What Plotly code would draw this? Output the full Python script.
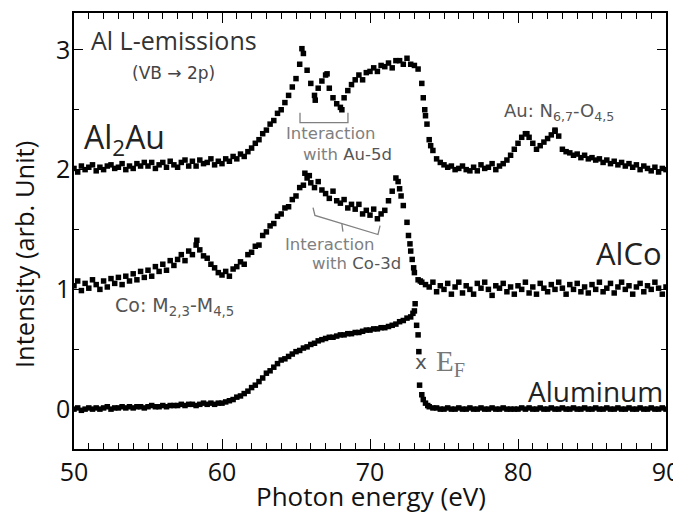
import plotly.graph_objects as go

# photon-energy sampling grid (eV): 50.00, 50.25, ... 90.00
energy = [50 + 0.25 * i for i in range(161)]

aluminum = [
    0.00, 0.01, -0.01, 0.00,   # 50
    0.01, 0.00, 0.01, 0.00,    # 51
    0.01, 0.02, 0.00, 0.01,    # 52
    0.01, 0.02, 0.01, 0.02,    # 53
    0.01, 0.02, 0.02, 0.01,    # 54
    0.02, 0.03, 0.02, 0.02,    # 55
    0.03, 0.02, 0.03, 0.03,    # 56
    0.03, 0.04, 0.03, 0.04,    # 57
    0.04, 0.03, 0.04, 0.05,    # 58
    0.04, 0.05, 0.04, 0.05,    # 59
    0.05, 0.06, 0.07, 0.08,    # 60
    0.10, 0.11, 0.13, 0.15,    # 61
    0.18, 0.20, 0.23, 0.26,    # 62
    0.30, 0.32, 0.35, 0.38,    # 63
    0.41, 0.42, 0.44, 0.46,    # 64
    0.48, 0.49, 0.51, 0.52,    # 65
    0.54, 0.55, 0.57, 0.58,    # 66
    0.59, 0.60, 0.60, 0.61,    # 67
    0.62, 0.62, 0.63, 0.63,    # 68
    0.64, 0.64, 0.65, 0.66,    # 69
    0.66, 0.67, 0.67, 0.68,    # 70
    0.68, 0.69, 0.70, 0.71,    # 71
    0.73, 0.74, 0.76, 0.77,    # 72
    0.82, 0.62, 0.12, 0.05,    # 73
    0.02, 0.01, 0.01, 0.00,    # 74
    0.00, 0.01, 0.00, 0.00,    # 75
    0.01, 0.00, 0.00, 0.01,    # 76
    0.00, 0.00, 0.01, 0.00,    # 77
    0.00, 0.01, 0.00, 0.00,    # 78
    0.01, 0.00, 0.00, 0.00,    # 79
    0.00, 0.01, 0.00, 0.01,    # 80
    0.00, 0.00, 0.01, 0.00,    # 81
    0.00, 0.01, 0.00, 0.00,    # 82
    0.01, 0.00, 0.00, 0.01,    # 83
    0.00, 0.00, 0.01, 0.00,    # 84
    0.00, 0.01, 0.00, 0.00,    # 85
    0.01, 0.00, 0.00, 0.01,    # 86
    0.00, 0.00, 0.01, 0.00,    # 87
    0.00, 0.01, 0.00, 0.00,    # 88
    0.01, 0.00, 0.00, 0.01,    # 89
    0.00,                      # 90
]

alco = [
    1.03, 1.07, 0.99, 1.05,    # 50
    1.01, 1.08, 1.04, 1.00,    # 51
    1.07, 1.02, 1.09, 1.05,    # 52
    1.10, 1.04, 1.11, 1.07,    # 53
    1.13, 1.08, 1.15, 1.10,    # 54
    1.16, 1.11, 1.19, 1.15,    # 55
    1.21, 1.16, 1.24, 1.20,    # 56
    1.25, 1.29, 1.24, 1.32,    # 57
    1.29, 1.37, 1.33, 1.28,    # 58
    1.26, 1.21, 1.18, 1.14,    # 59
    1.12, 1.15, 1.11, 1.17,    # 60
    1.19, 1.23, 1.21, 1.29,    # 61
    1.31, 1.36, 1.37, 1.45,    # 62
    1.48, 1.53, 1.55, 1.61,    # 63
    1.63, 1.68, 1.69, 1.75,    # 64
    1.78, 1.85, 1.87, 1.93,    # 65
    1.89, 1.85, 1.90, 1.83,    # 66
    1.80, 1.76, 1.82, 1.74,    # 67
    1.72, 1.75, 1.68, 1.71,    # 68
    1.67, 1.71, 1.63, 1.66,    # 69
    1.62, 1.67, 1.59, 1.63,    # 70
    1.66, 1.74, 1.82, 1.93,    # 71
    1.84, 1.70, 1.56, 1.32,    # 72
    1.14, 1.08, 1.06, 1.04,    # 73
    1.02, 1.06, 0.98, 1.03,    # 74
    1.00, 1.05, 0.96, 1.02,    # 75
    1.06, 0.97, 1.03, 1.00,    # 76
    0.96, 1.05, 1.01, 1.06,    # 77
    1.00, 0.95, 1.03, 1.01,    # 78
    1.05, 0.98, 1.02, 0.96,    # 79
    1.03, 1.00, 1.06, 0.97,    # 80
    1.02, 0.96, 1.05, 1.01,    # 81
    0.98, 1.04, 1.00, 1.06,    # 82
    1.01, 0.96, 1.04, 1.00,    # 83
    1.05, 0.98, 1.02, 0.97,    # 84
    1.04, 1.00, 1.06, 0.98,    # 85
    1.01, 1.05, 0.97, 1.02,    # 86
    1.06, 1.00, 1.03, 0.96,    # 87
    1.02, 1.05, 0.98, 1.03,    # 88
    1.00, 1.06, 1.01, 0.96,    # 89
    1.02,                      # 90
]

al2au = [
    2.01, 1.98, 2.03, 2.00,    # 50
    2.02, 2.04, 1.99, 2.02,    # 51
    2.00, 2.03, 2.04, 2.01,    # 52
    2.02, 2.05, 2.00, 2.03,    # 53
    2.01, 2.05, 2.03, 2.06,    # 54
    2.03, 2.06, 2.01, 2.04,    # 55
    2.06, 2.02, 2.07, 2.04,    # 56
    2.02, 2.06, 2.08, 2.03,    # 57
    2.07, 2.03, 2.08, 2.05,    # 58
    2.06, 2.09, 2.04, 2.07,    # 59
    2.05, 2.09, 2.07, 2.11,    # 60
    2.09, 2.13, 2.11, 2.15,    # 61
    2.18, 2.22, 2.25, 2.30,    # 62
    2.33, 2.38, 2.41, 2.47,    # 63
    2.50, 2.56, 2.62, 2.69,    # 64
    2.76, 2.88, 2.97, 2.83,    # 65
    2.72, 2.62, 2.68, 2.74,    # 66
    2.79, 2.68, 2.60, 2.55,    # 67
    2.52, 2.60, 2.66, 2.71,    # 68
    2.75, 2.79, 2.75, 2.81,    # 69
    2.82, 2.85, 2.82, 2.87,    # 70
    2.86, 2.89, 2.85, 2.91,    # 71
    2.91, 2.88, 2.93, 2.88,    # 72
    2.87, 2.84, 2.72, 2.45,    # 73
    2.25, 2.16, 2.09, 2.06,    # 74
    2.04, 2.02, 2.03, 2.00,    # 75
    2.01, 2.03, 2.00, 1.99,    # 76
    2.02, 1.99, 2.04, 2.01,    # 77
    2.02, 2.05, 2.00, 2.03,    # 78
    2.05, 2.08, 2.12, 2.17,    # 79
    2.22, 2.27, 2.30, 2.27,    # 80
    2.22, 2.17, 2.20, 2.23,    # 81
    2.26, 2.29, 2.32, 2.28,    # 82
    2.17, 2.15, 2.14, 2.12,    # 83
    2.13, 2.10, 2.12, 2.09,    # 84
    2.10, 2.08, 2.09, 2.06,    # 85
    2.08, 2.05, 2.07, 2.04,    # 86
    2.06, 2.03, 2.05, 2.02,    # 87
    2.04, 2.00, 2.03, 2.01,    # 88
    1.99, 2.02, 1.98, 2.01,    # 89
    2.00,                      # 90
]

al_extra_e = [72.9, 73.05, 73.15, 73.3, 73.35, 73.6, 73.9]
al_extra_i = [0.80, 0.88, 0.70, 0.48, 0.20, 0.08, 0.03]
alco_extra_e = [58.3, 65.6, 65.9, 71.9, 72.1, 72.6, 72.7, 72.85, 72.95, 73.4]
alco_extra_i = [1.41, 1.97, 1.95, 1.90, 1.78, 1.45, 1.38, 1.25, 1.18, 1.07]
al2au_extra_e = [65.4, 66.3, 67.1, 68.1, 73.6, 73.7, 73.85, 74.1, 80.6, 82.5]
al2au_extra_i = [3.01, 2.58, 2.80, 2.50, 2.60, 2.50, 2.38, 2.20, 2.30, 2.33]

x_ticks = [50, 60, 70, 80, 90]
y_ticks = [0, 1, 2, 3]

assert len(aluminum) == len(alco) == len(al2au) == len(energy)

MAIN = "Open Sans"
ANN = "DejaVu Sans"

fig = go.Figure()
for xs, ys, name in [
    (energy + al_extra_e, aluminum + al_extra_i, "Aluminum"),
    (energy + alco_extra_e, alco + alco_extra_i, "AlCo"),
    (energy + al2au_extra_e, al2au + al2au_extra_i, "Al2Au"),
]:
    fig.add_trace(go.Scatter(
        x=xs, y=ys, mode="markers", name=name, showlegend=False,
        marker=dict(symbol="square", size=5.5, color="black", line=dict(width=0)),
    ))

# brackets (gray)
gray = "#808080"
fig.add_shape(type="path", path="M 65.27 2.475 L 65.27 2.392 L 68.51 2.392 L 68.51 2.475",
              line=dict(color=gray, width=1.3), xref="x", yref="y")
fig.add_shape(type="path",
              path="M 66.15 1.683 L 66.28 1.617 L 70.54 1.458 L 70.68 1.533",
              line=dict(color=gray, width=1.3), xref="x", yref="y")
fig.add_shape(type="line", x0=68.10, y0=1.547, x1=68.17, y1=1.483,
              line=dict(color=gray, width=1.3), xref="x", yref="y")

# the page body has an 8px margin: size the figure so the plot area lands
# at page pixels x 74..666, y 13..449
BODY = 8
W, H = 681 - BODY, 514 - BODY
L, R, T, B = 74 - BODY, 15, 13 - BODY, 65
X0, X1, Y0, Y1 = 74, 666, 13, 449   # plot area in page pixels


def px(xp):
    return (xp - X0) / (X1 - X0)


def py(yp):
    return (Y1 - yp) / (Y1 - Y0)


def ann(text, x, y, size, color="#222", xanchor="center", family=MAIN, **kw):
    fig.add_annotation(text=text, x=px(x), y=py(y), xref="paper", yref="paper",
                       xanchor=xanchor, yanchor="middle", showarrow=False,
                       font=dict(family=family, size=size, color=color), **kw)


ann("Al L-emissions", 89, 40, 25, color="#333", xanchor="left")
ann("(VB → 2p)", 173, 73, 17, color="#444", family=ANN)
ann("Al<sub>2</sub>Au", 82, 139, 32, color="#222", xanchor="left")
ann("AlCo", 664, 253, 31, color="#222", xanchor="right")
ann("Aluminum", 665, 391, 28, color="#222", xanchor="right")
ann("Co: M<sub>2,3</sub>-M<sub>4,5</sub>", 113, 306, 19, color="#555", xanchor="left", family=ANN)
ann("Au: N<sub>6,7</sub>-O<sub>4,5</sub>", 502, 112, 18, color="#555", xanchor="left", family=ANN)
ann("Interaction", 331, 133, 16.5, color="#808080", family=ANN)
ann("with <span style='color:#555'>Au-5d</span>", 347, 154, 16.5, color="#808080", family=ANN)
ann("Interaction", 330, 245, 16.5, color="#808080", family=ANN)
ann("with <span style='color:#555'>Co-3d</span>", 356, 264, 16.5, color="#808080", family=ANN)
ann("x", 421, 362, 20, color="#555", family=ANN)
ann("E<sub>F</sub>", 434, 363, 29, color="#777", xanchor="left", family="Liberation Serif")

# axis titles
ann("Photon energy (eV)", 371, 496, 26, color="#111")
ann("Intensity (arb. Unit)", 24, 255, 25.5, color="#111", textangle=-90)

axis_common = dict(
    showline=True, linecolor="black", linewidth=1.5, mirror="ticks",
    ticks="inside", tickcolor="black", tickwidth=1.3, showgrid=False, zeroline=False,
    automargin=False,
    tickfont=dict(family=MAIN, size=25, color="#111"),
)
fig.update_xaxes(range=[50, 90], tickvals=x_ticks, ticklen=10,
                 minor=dict(ticks="inside", dtick=1, tick0=50, ticklen=6,
                            tickcolor="black", tickwidth=1, showgrid=False),
                 **axis_common)
fig.update_yaxes(range=[-0.333, 3.308], tickvals=y_ticks, ticklen=9,
                 ticklabelstandoff=-3,
                 minor=dict(ticks="inside", dtick=0.5, tick0=0, ticklen=5,
                            tickcolor="black", tickwidth=1, showgrid=False),
                 **axis_common)

fig.update_layout(
    width=W, height=H, margin=dict(l=L, r=R, t=T, b=B, autoexpand=False),
    plot_bgcolor="white", paper_bgcolor="white",
)

fig.write_html("out.html")
